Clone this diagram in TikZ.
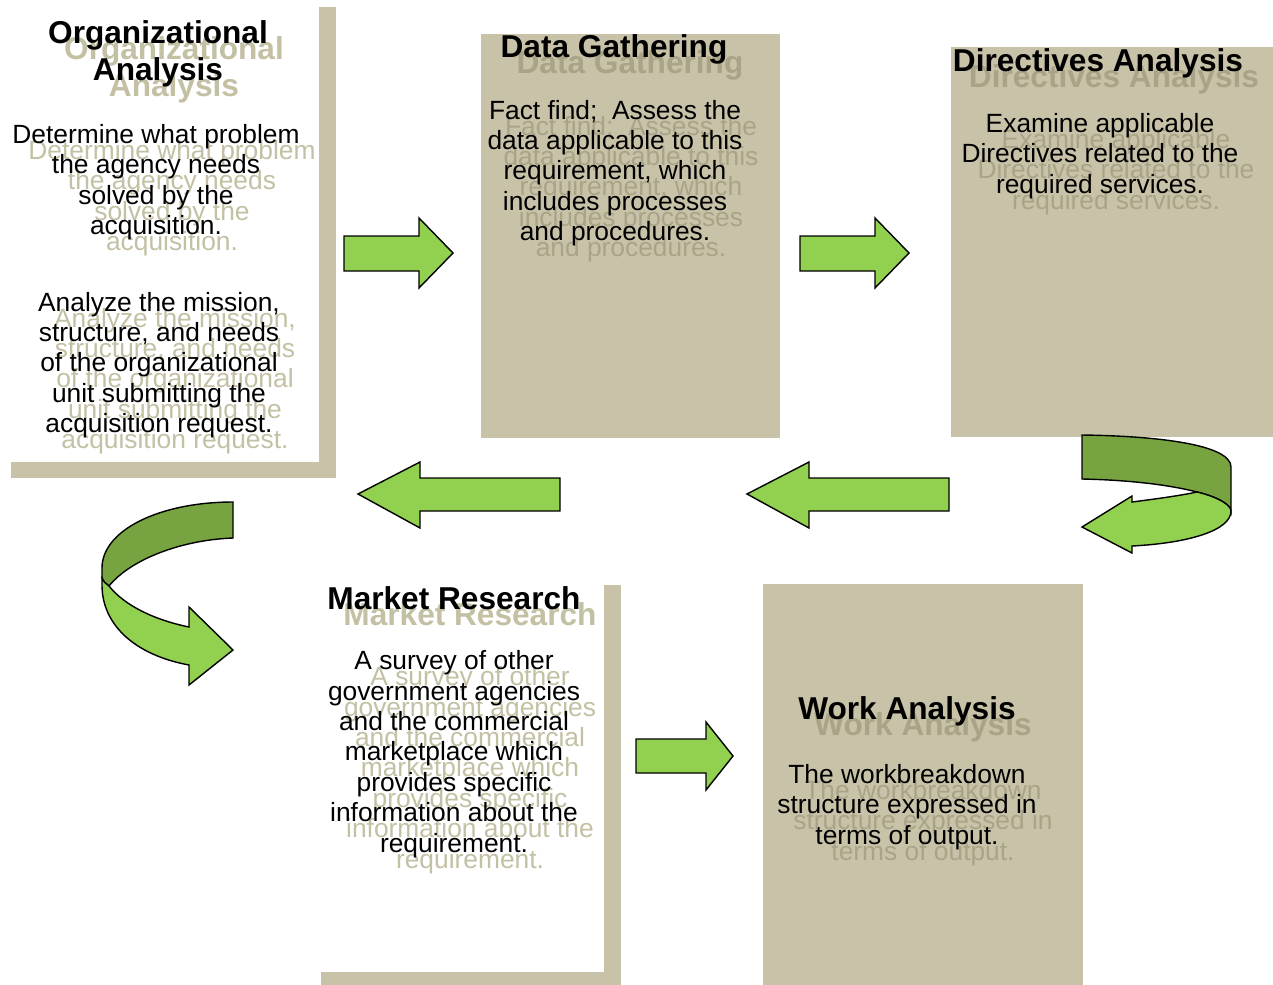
\documentclass[tikz,border=0pt]{standalone}
\usepackage{fontspec}
\setmainfont{Liberation Sans}
\definecolor{boxtan}{HTML}{C8C3A8}
\definecolor{ghostw}{HTML}{C4C0A4}
\definecolor{ghostt}{HTML}{A9A487}
\definecolor{lgreen}{HTML}{92D050}
\definecolor{dgreen}{HTML}{77A440}
\begin{document}
\begin{tikzpicture}[x=0.02cm,y=-0.02cm,line join=miter,
  ttl/.style={font=\fontsize{18}{21}\selectfont\bfseries,align=center,inner sep=0pt},
  bdy/.style={font=\fontsize{15}{17.3}\selectfont,align=center,inner sep=0pt},
  gw/.style={text=ghostw},
  gt/.style={text=ghostt},
  lightblk/.style={fill=lgreen,draw=black,line width=0.8pt},
  darkblk/.style={fill=dgreen,draw=black,line width=0.8pt}]
\useasboundingbox (0,0) rectangle (1273,984);
\begin{scope}
\clip (0,0) rectangle (1273,984);
% boxes
\fill[boxtan] (11,7) rectangle (336,478);
\fill[white] (0,0) rectangle (319,462);
\fill[boxtan] (321,585) rectangle (621,990);
\fill[white] (310,570) rectangle (604,972);
\fill[boxtan] (481,34) rectangle (780,438);
\fill[boxtan] (951,47) rectangle (1280,437);
\fill[boxtan] (763,584) rectangle (1083,990);

% straight arrows
\draw[lightblk] (344,236) -- (419,236) -- (419,218) -- (453,253) -- (419,288) -- (419,271) -- (344,271) -- cycle;
\draw[lightblk] (800,236) -- (875,236) -- (875,218) -- (909,253) -- (875,288) -- (875,271) -- (800,271) -- cycle;
\draw[lightblk] (636,739) -- (706,739) -- (706,722) -- (733,756) -- (706,790) -- (706,773) -- (636,773) -- cycle;
\draw[lightblk] (560,478) -- (420,478) -- (420,462) -- (358,494) -- (420,528) -- (420,511) -- (560,511) -- cycle;
\draw[lightblk] (949,478) -- (809,478) -- (809,462) -- (747,494) -- (809,528) -- (809,511) -- (949,511) -- cycle;

% top-right U-turn arrow
\draw[darkblk] (1082,435) .. controls (1160,436) and (1231,445) .. (1231,467) -- (1231,511)
  .. controls (1231,505) and (1218,497) .. (1197,492)
  .. controls (1170,485) and (1130,480) .. (1082,479) -- cycle;
\draw[lightblk] (1132,502) .. controls (1155,499) and (1178,496) .. (1197,492)
  .. controls (1218,497) and (1231,505) .. (1231,511)
  .. controls (1231,530) and (1190,543) .. (1132,546)
  -- (1132,553) -- (1082,527) -- (1132,496) -- cycle;

% lower-left U-turn arrow
\draw[darkblk] (233,502) .. controls (160,502) and (102,530) .. (102,568) -- (102,578)
  .. controls (104,582) .. (109,586)
  .. controls (130,560) and (180,540) .. (233,538) -- cycle;
\draw[lightblk] (109,586) .. controls (125,606) and (155,620) .. (189,627)
  -- (189,607) -- (233,650) -- (189,685) -- (189,665)
  .. controls (135,655) and (102,625) .. (102,585) -- (102,578)
  .. controls (104,582) .. (109,586) -- cycle;

% texts: Organizational Analysis
\node[ttl,gw] (t1g) at (174,70) {Organizational\\Analysis};
\node[ttl] (t1) at (158,54) {Organizational\\Analysis};
\node[bdy,gw] (b1g) at (172,198) {Determine what problem\\the agency needs\\solved by the\\acquisition.};
\node[bdy] (b1) at (156,182) {Determine what problem\\the agency needs\\solved by the\\acquisition.};
\node[bdy,gw] (c1g) at (175,381) {Analyze the mission,\\structure, and needs\\of the organizational\\unit submitting the\\acquisition request.};
\node[bdy] (c1) at (159,365) {Analyze the mission,\\structure, and needs\\of the organizational\\unit submitting the\\acquisition request.};

% Data Gathering
\node[ttl,gt] (t2g) at (630,65) {Data Gathering};
\node[ttl] (t2) at (614,49) {Data Gathering};
\node[bdy,gt] (b2g) at (631,189) {Fact find;~ Assess the\\data applicable to this\\requirement, which\\includes processes\\and procedures.};
\node[bdy] (b2) at (615,173) {Fact find;~ Assess the\\data applicable to this\\requirement, which\\includes processes\\and procedures.};

% Directives Analysis
\node[ttl,gt] (t3g) at (1114,79) {Directives Analysis};
\node[ttl] (t3) at (1098,63) {Directives Analysis};
\node[bdy,gt] (b3g) at (1116,172) {Examine applicable\\Directives related to the\\required services.};
\node[bdy] (b3) at (1100,156) {Examine applicable\\Directives related to the\\required services.};

% Market Research
\node[ttl,gw] (t4g) at (470,614) {Market Research};
\node[ttl] (t4) at (454,598) {Market Research};
\node[bdy,gw] (b4g) at (470,770) {A survey of other\\government agencies\\and the commercial\\marketplace which\\provides specific\\information about the\\requirement.};
\node[bdy] (b4) at (454,754) {A survey of other\\government agencies\\and the commercial\\marketplace which\\provides specific\\information about the\\requirement.};

% Work Analysis
\node[ttl,gt] (t5g) at (923,727) {Work Analysis};
\node[ttl] (t5) at (907,711) {Work Analysis};
\node[bdy,gt] (b5g) at (923,823) {The workbreakdown\\structure expressed in\\terms of output.};
\node[bdy] (b5) at (907,807) {The workbreakdown\\structure expressed in\\terms of output.};
\end{scope}
\end{tikzpicture}
\end{document}
